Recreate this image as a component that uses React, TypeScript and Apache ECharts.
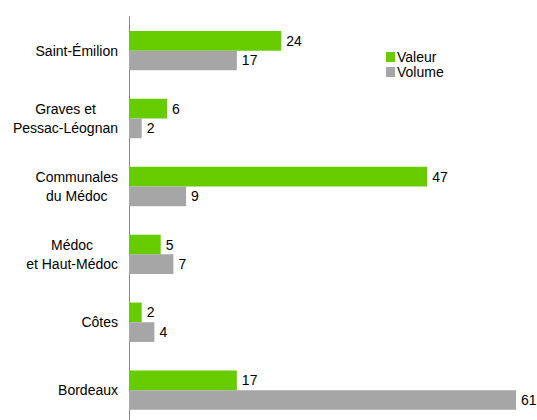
import React, { useEffect, useRef } from "react";
import * as echarts from "echarts";

const categories = [
  "Saint-Émilion",
  "Graves et\nPessac-Léognan",
  "Communales\ndu Médoc",
  "Médoc\net Haut-Médoc",
  "Côtes",
  "Bordeaux",
];
const valeur = [24, 6, 47, 5, 2, 17];
const volume = [17, 2, 9, 7, 4, 61];
const seriesNames = ["Valeur", "Volume"];

const FONT = "'Liberation Sans', Arial, sans-serif";
const FS = 14;

export default function App() {
  const ref = useRef<HTMLDivElement>(null);
  useEffect(() => {
    if (!ref.current) return;
    const chart = echarts.init(ref.current, undefined, { renderer: "svg" });
    const labelStyle = {
      show: true,
      position: "right",
      distance: 5,
      color: "#000",
      fontSize: FS,
      fontFamily: FONT,
    };
    chart.setOption({
      animation: false,
      backgroundColor: "#fff",
      textStyle: { fontFamily: FONT },
      grid: { left: 129, top: 16.7, height: 407.4, width: 387, outerBoundsMode: "none", containLabel: false },
      legend: {
        orient: "vertical",
        left: 381,
        top: 45,
        icon: "rect",
        itemWidth: 9,
        itemHeight: 10,
        itemGap: 1,
        data: seriesNames,
        textStyle: { fontSize: FS, color: "#000", fontFamily: FONT, padding: [0, 0, 0, -3] },
      },
      xAxis: {
        type: "value",
        min: 0,
        max: "dataMax",
        show: false,
      },
      yAxis: {
        type: "category",
        inverse: true,
        data: categories,
        axisLine: { lineStyle: { color: "#898989", width: 1 } },
        axisTick: { length: 4, lineStyle: { color: "#898989" } },
        axisLabel: {
          margin: 11,
          color: "#000",
          fontSize: FS,
          fontFamily: FONT,
          lineHeight: 19,
          formatter: (v: string) =>
            v.includes("\n")
              ? v
                  .split("\n")
                  .map((l) => `{c|${l}}`)
                  .join("\n")
              : v,
          rich: {
            c: { align: "center", fontSize: FS, fontFamily: FONT, color: "#000", lineHeight: 19 },
          },
        },
      },
      series: [
        {
          name: seriesNames[0],
          type: "bar",
          data: valeur,
          barGap: 0,
          barCategoryGap: "42%",
          itemStyle: { color: "#66cc00" },
          label: labelStyle,
        },
        {
          name: seriesNames[1],
          type: "bar",
          data: volume,
          barGap: 0,
          barCategoryGap: "42%",
          itemStyle: { color: "#a6a6a6" },
          label: labelStyle,
        },
      ],
    });
    return () => chart.dispose();
  }, []);
  return (
    <div
      ref={ref}
      style={{ position: "absolute", left: 0, top: 0, width: 537, height: 420, overflow: "hidden" }}
    />
  );
}
